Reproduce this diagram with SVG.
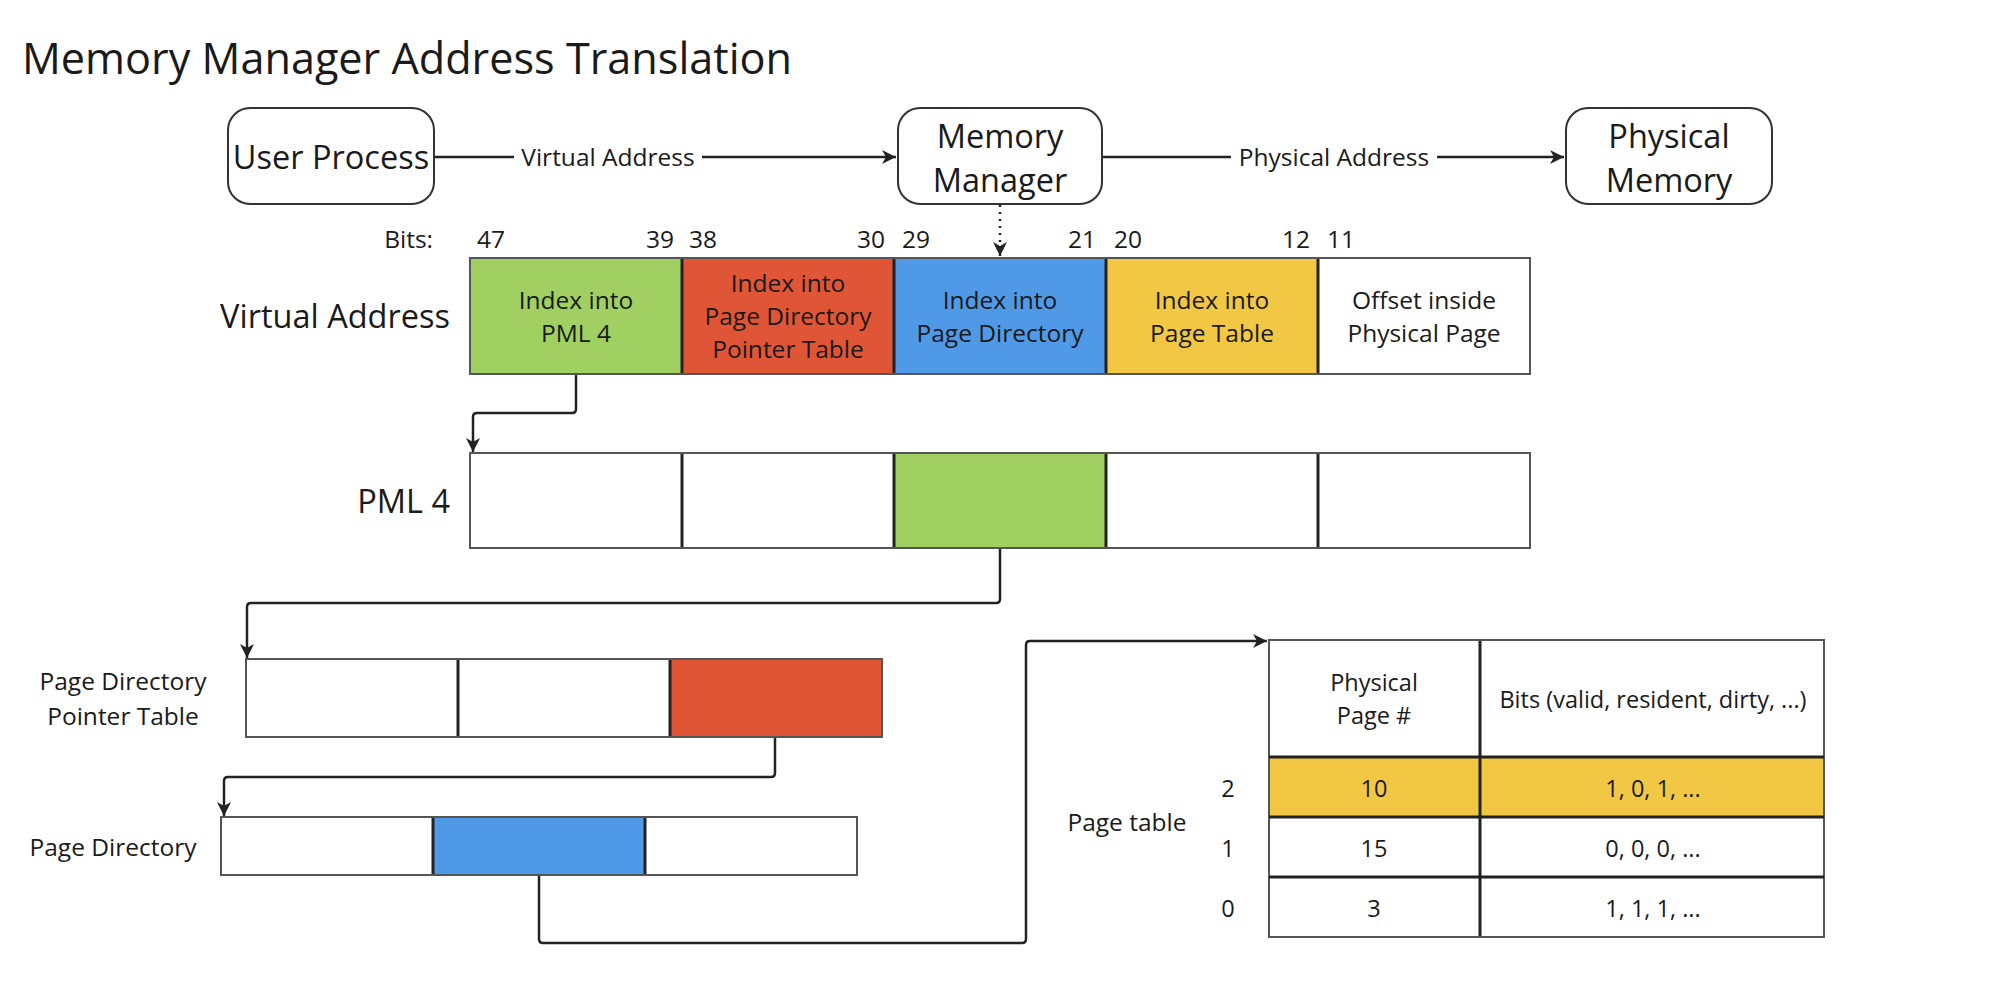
<svg xmlns="http://www.w3.org/2000/svg" width="1994" height="984" viewBox="0 0 1994 984">
<defs>
<style>
text{font-family:"Open Sans","Noto Sans","Liberation Sans",sans-serif;fill:#1a1a1a}
.t{font-size:43.2px}
.b{font-size:32.5px}
.m{font-size:24.5px}
.s{font-size:23.5px}
.c{text-anchor:middle}
.e{text-anchor:end}
.box{fill:#fff;stroke:#333;stroke-width:2}
.cell{stroke:#555;stroke-width:2}
.div{stroke:#222;stroke-width:3}
.w{fill:#fff}
.g{fill:#A1D062}
.r{fill:#E05535}
.bl{fill:#4F99E6}
.y{fill:#F2C744}
.con{fill:none;stroke:#222;stroke-width:2.5;stroke-linejoin:round}
.lbg{fill:#fff}
</style>
<marker id="ah" markerUnits="userSpaceOnUse" markerWidth="16" markerHeight="14" refX="14" refY="7" orient="auto">
<path d="M0,0 L14,7 L0,14 L4,7 Z" fill="#222"/>
</marker>
</defs>
<rect width="1994" height="984" fill="#fff"/>
<text class="t" x="22" y="74">Memory Manager Address Translation</text>

<g id="connectors">
<path class="con" d="M434,157 H896" marker-end="url(#ah)"/>
<path class="con" d="M1102,157 H1564" marker-end="url(#ah)"/>
<path class="con" d="M1000,205 V256" stroke-dasharray="2 5" marker-end="url(#ah)"/>
<path class="con" d="M576,374 V409 Q576,413 572,413 H477 Q473,413 473,417 V452" marker-end="url(#ah)"/>
<path class="con" d="M1000,548 V599 Q1000,603 996,603 H251 Q247,603 247,607 V658" marker-end="url(#ah)"/>
<path class="con" d="M775,737 V773 Q775,777 771,777 H228 Q224,777 224,781 V816" marker-end="url(#ah)"/>
<path class="con" d="M539,875 V939 Q539,943 543,943 H1022 Q1026,943 1026,939 V645 Q1026,641 1030,641 H1267" marker-end="url(#ah)"/>
<rect class="lbg" x="514" y="140" width="188" height="34"/>
<text class="m c" x="608" y="166">Virtual Address</text>
<rect class="lbg" x="1231" y="140" width="206" height="34"/>
<text class="m c" x="1334" y="166">Physical Address</text>
</g>

<g id="user-process">
<rect class="box" x="228" y="108" width="206" height="96" rx="22"/>
<text class="b c" x="331" y="169">User Process</text>
</g>
<g id="memory-manager">
<rect class="box" x="898" y="108" width="204" height="96" rx="22"/>
<text class="b c" x="1000" y="148">Memory</text>
<text class="b c" x="1000" y="192">Manager</text>
</g>
<g id="physical-memory">
<rect class="box" x="1566" y="108" width="206" height="96" rx="22"/>
<text class="b c" x="1669" y="148">Physical</text>
<text class="b c" x="1669" y="192">Memory</text>
</g>

<g id="bits">
<text class="m e" x="433" y="248">Bits:</text>
<text class="m" x="477" y="248">47</text>
<text class="m e" x="674" y="248">39</text>
<text class="m" x="689" y="248">38</text>
<text class="m e" x="885" y="248">30</text>
<text class="m" x="902" y="248">29</text>
<text class="m e" x="1096" y="248">21</text>
<text class="m" x="1114" y="248">20</text>
<text class="m e" x="1310" y="248">12</text>
<text class="m" x="1327" y="248">11</text>
</g>

<g id="virtual-address">
<text class="b e" x="450" y="328">Virtual Address</text>
<rect class="cell g" x="470" y="258" width="212" height="116"/>
<rect class="cell r" x="682" y="258" width="212" height="116"/>
<rect class="cell bl" x="894" y="258" width="212" height="116"/>
<rect class="cell y" x="1106" y="258" width="212" height="116"/>
<rect class="cell w" x="1318" y="258" width="212" height="116"/>
<line class="div" x1="682" y1="259" x2="682" y2="373"/>
<line class="div" x1="894" y1="259" x2="894" y2="373"/>
<line class="div" x1="1106" y1="259" x2="1106" y2="373"/>
<line class="div" x1="1318" y1="259" x2="1318" y2="373"/>
<text class="m c" x="576" y="309">Index into</text>
<text class="m c" x="576" y="342">PML 4</text>
<text class="m c" x="788" y="292">Index into</text>
<text class="m c" x="788" y="325">Page Directory</text>
<text class="m c" x="788" y="358">Pointer Table</text>
<text class="m c" x="1000" y="309">Index into</text>
<text class="m c" x="1000" y="342">Page Directory</text>
<text class="m c" x="1212" y="309">Index into</text>
<text class="m c" x="1212" y="342">Page Table</text>
<text class="m c" x="1424" y="309">Offset inside</text>
<text class="m c" x="1424" y="342">Physical Page</text>
</g>

<g id="pml4">
<text class="b e" x="450" y="513">PML 4</text>
<rect class="cell w" x="470" y="453" width="212" height="95"/>
<rect class="cell w" x="682" y="453" width="212" height="95"/>
<rect class="cell g" x="894" y="453" width="212" height="95"/>
<rect class="cell w" x="1106" y="453" width="212" height="95"/>
<rect class="cell w" x="1318" y="453" width="212" height="95"/>
<line class="div" x1="682" y1="454" x2="682" y2="547"/>
<line class="div" x1="894" y1="454" x2="894" y2="547"/>
<line class="div" x1="1106" y1="454" x2="1106" y2="547"/>
<line class="div" x1="1318" y1="454" x2="1318" y2="547"/>
</g>

<g id="pdpt">
<text class="m c" x="123" y="690">Page Directory</text>
<text class="m c" x="123" y="725">Pointer Table</text>
<rect class="cell w" x="246" y="659" width="212" height="78"/>
<rect class="cell w" x="458" y="659" width="212" height="78"/>
<rect class="cell r" x="670" y="659" width="212" height="78"/>
<line class="div" x1="458" y1="660" x2="458" y2="736"/>
<line class="div" x1="670" y1="660" x2="670" y2="736"/>
</g>

<g id="page-directory">
<text class="m c" x="113" y="856">Page Directory</text>
<rect class="cell w" x="221" y="817" width="212" height="58"/>
<rect class="cell bl" x="433" y="817" width="212" height="58"/>
<rect class="cell w" x="645" y="817" width="212" height="58"/>
<line class="div" x1="433" y1="818" x2="433" y2="874"/>
<line class="div" x1="645" y1="818" x2="645" y2="874"/>
</g>

<g id="page-table">
<text class="m c" x="1127" y="831">Page table</text>
<text class="s c" x="1228" y="797">2</text>
<text class="s c" x="1228" y="857">1</text>
<text class="s c" x="1228" y="917">0</text>
<rect class="cell w" x="1269" y="640" width="555" height="297"/>
<rect class="y" x="1269" y="757" width="555" height="60"/>
<rect fill="none" stroke="#555" stroke-width="2" x="1269" y="640" width="555" height="297"/>
<line class="div" x1="1480" y1="641" x2="1480" y2="936"/>
<line class="div" x1="1269" y1="757" x2="1824" y2="757"/>
<line class="div" x1="1269" y1="817" x2="1824" y2="817"/>
<line class="div" x1="1269" y1="877" x2="1824" y2="877"/>
<text class="s c" x="1374" y="691">Physical</text>
<text class="s c" x="1374" y="724">Page #</text>
<text class="s c" x="1653" y="708">Bits (valid, resident, dirty, ...)</text>
<text class="s c" x="1374" y="797">10</text>
<text class="s c" x="1653" y="797">1, 0, 1, ...</text>
<text class="s c" x="1374" y="857">15</text>
<text class="s c" x="1653" y="857">0, 0, 0, ...</text>
<text class="s c" x="1374" y="917">3</text>
<text class="s c" x="1653" y="917">1, 1, 1, ...</text>
</g>
</svg>
